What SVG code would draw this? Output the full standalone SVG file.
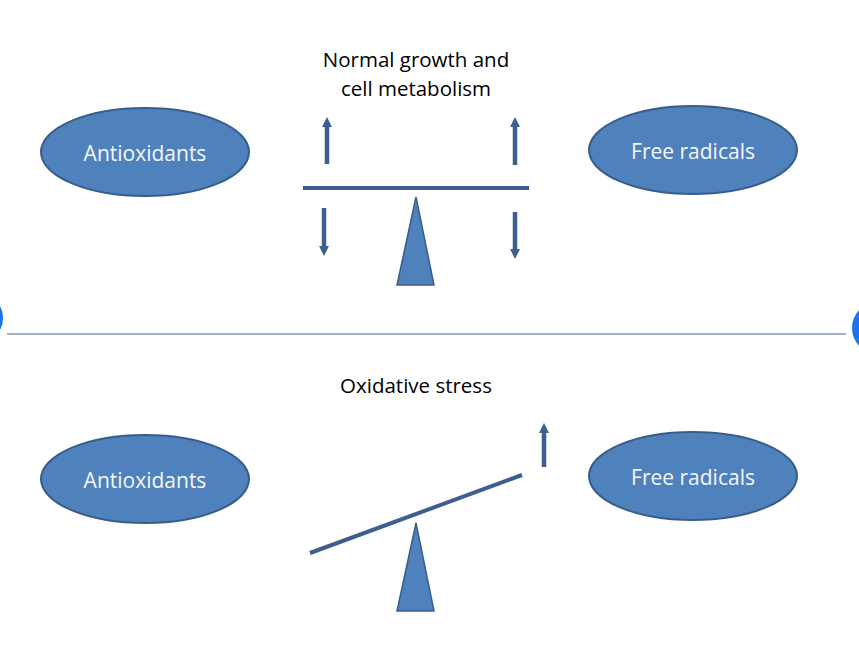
<svg xmlns="http://www.w3.org/2000/svg" width="859" height="653" viewBox="0 0 859 653">
<style>
.node{fill:#4f81bd;stroke:#385d8a;stroke-width:2}
.nt{font-family:"Open Sans","Liberation Sans",sans-serif;font-size:21px;fill:#f4f7fb;text-anchor:middle}
.lbl{font-family:"Open Sans","Liberation Sans",sans-serif;font-size:20.5px;fill:#000000;text-anchor:middle}
.bar{stroke:#3d5f8f;stroke-width:4;fill:none}
.arr{stroke:#3d5f8f;stroke-width:4.5;fill:none}
.fulc{fill:#4f81bd;stroke:#385d8a;stroke-width:1.5}
</style>
<defs>
<marker id="ah" viewBox="0 0 10 10" refX="5" refY="5" markerWidth="2.2" markerHeight="2.2" orient="auto" markerUnits="strokeWidth">
<path d="M0,0 L10,5 L0,10 Z" fill="#3d5f8f"/>
</marker>
</defs>
<rect width="859" height="653" fill="#ffffff"/>
<g id="title-top"><text class="lbl" x="416" y="67">Normal growth and</text><text class="lbl" x="416" y="96">cell metabolism</text></g>
<g id="antioxidants-top"><ellipse class="node" cx="145" cy="152" rx="104" ry="44"/><text class="nt" x="145" y="161">Antioxidants</text></g>
<g id="freeradicals-top"><ellipse class="node" cx="693" cy="150" rx="104" ry="44"/><text class="nt" x="693" y="159">Free radicals</text></g>
<g id="seesaw-top">
<line class="bar" x1="303" y1="188" x2="529" y2="188"/>
<polygon class="fulc" points="416,197 434,285 397,285"/>
</g>
<g id="connectors">
<line class="arr" x1="327" y1="164" x2="327" y2="122" marker-end="url(#ah)"/>
<line class="arr" x1="515" y1="165" x2="515" y2="122" marker-end="url(#ah)"/>
<line class="arr" x1="324" y1="208" x2="324" y2="251" marker-end="url(#ah)"/>
<line class="arr" x1="515" y1="212" x2="515" y2="254" marker-end="url(#ah)"/>
<line class="arr" x1="544" y1="467" x2="544" y2="428" marker-end="url(#ah)"/>
</g>
<g id="separator">
<line x1="7" y1="334" x2="846" y2="334" stroke="#8497b0" stroke-width="1.5"/>
<ellipse cx="-6" cy="318" rx="9" ry="16" fill="#1a73e8"/>
<circle cx="878" cy="328" r="26" fill="#1a73e8"/>
</g>
<g id="title-bottom"><text class="lbl" x="416" y="393">Oxidative stress</text></g>
<g id="antioxidants-bottom"><ellipse class="node" cx="145" cy="479" rx="104" ry="44"/><text class="nt" x="145" y="488">Antioxidants</text></g>
<g id="freeradicals-bottom"><ellipse class="node" cx="693" cy="476" rx="104" ry="44"/><text class="nt" x="693" y="485">Free radicals</text></g>
<g id="seesaw-bottom">
<line class="bar" x1="310" y1="553" x2="522" y2="475"/>
<polygon class="fulc" points="416,523 434,611 397,611"/>
</g>
</svg>
